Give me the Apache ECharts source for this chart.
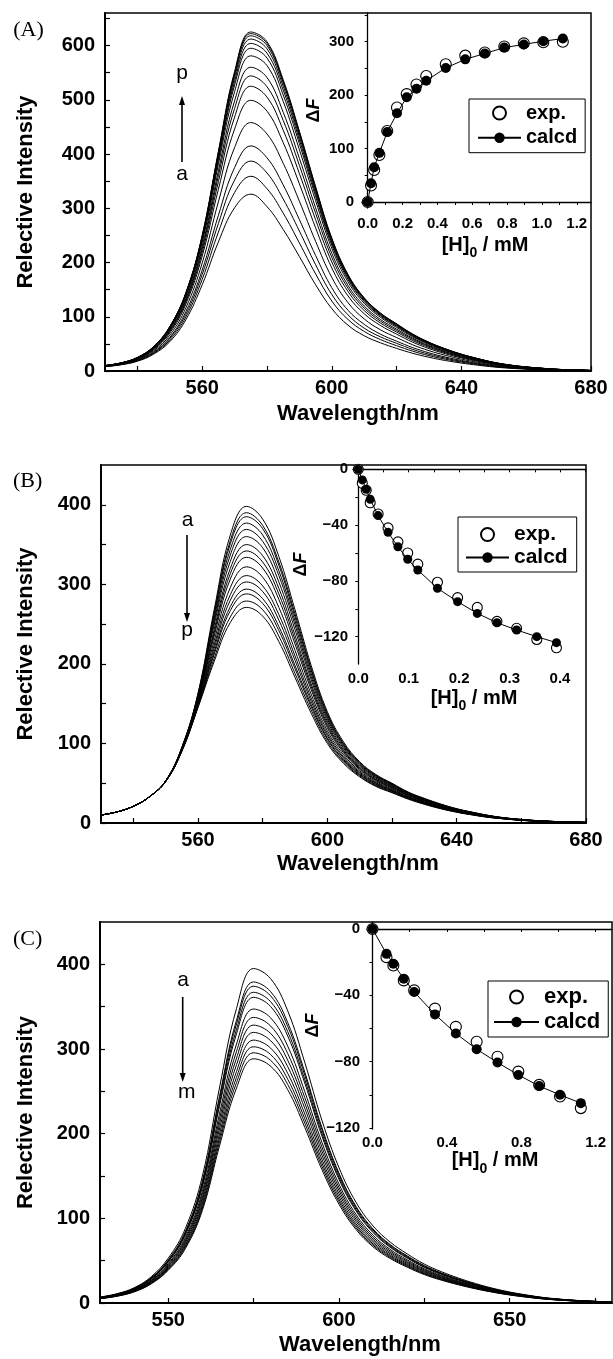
<!DOCTYPE html>
<html><head><meta charset="utf-8">
<script src="https://cdn.jsdelivr.net/npm/echarts@6/dist/echarts.min.js"></script>
<style>html,body{margin:0;padding:0;background:#fff}#c{width:613px;height:1359px}</style>
</head><body><div id="c"></div>
<script>
// ---------- data ----------
const wavelengths = [530,535,540,545,550,555,560,565,570,575,580,585,590,595,600,605,610,615,620,625,630,635,640,645,650,655,660,665,670,675,680];

// Panel A: spectra a..p (intensity rises)
const spectraA = [
 [8,11.5,18,31,54,95,159,238,301,326,303,261,211,159,115,84.5,65,52,41.7,32.6,25.3,19.4,14.6,10.7,7.4,5.1,3.4,2.2,1.4,0.85,0.5],
 [8.2,11.9,18.8,32.5,57,100,169,256,329,359,336,291,236,179,129,95,73,58,46.7,36.5,28.3,21.8,16.4,12.1,8.3,5.7,3.9,2.5,1.6,1,0.55],
 [8.4,12.2,19.4,33.8,60,105,178,272,352,387,365,317,258,196,141,103.5,79,63,51,39.8,30.9,23.8,17.9,13.2,9.1,6.3,4.2,2.8,1.7,1.1,0.6],
 [8.6,12.5,20.1,35.1,62,110,186,287,375,415,393,343,279,213,153.5,112,86,68,55,43.1,33.5,25.8,19.5,14.3,9.9,6.8,4.6,3,1.9,1.2,0.65],
 [8.9,13,21.1,37.2,66,117,199,312,412,458,437,383,313,239,172.5,126,96,76,61.7,48.2,37.5,29,21.8,16.1,11.2,7.7,5.2,3.4,2.1,1.4,0.7],
 [9.2,13.5,22,39.1,70,124,212,335,446,499,479,421,345,264,190,138.5,105.5,84,67.9,53.1,41.3,31.9,24.1,17.8,12.4,8.5,5.8,3.8,2.3,1.5,0.8],
 [9.3,13.8,22.6,40.3,72.6,128,219,349,468,525,505,444,364,279,201,146.6,111.5,88.5,71.8,56.1,43.7,33.7,25.5,18.9,13.1,9,6.1,4.1,2.5,1.6,0.8],
 [9.5,14,23.1,41.2,74.4,131,225,360,484,544,524,462,379,291,209.6,152.6,116,92,74.7,58.4,45.5,35.1,26.5,19.7,13.7,9.4,6.4,4.2,2.6,1.7,0.9],
 [9.6,14.2,23.5,42,76,134,230,369,498,560,541,477,392,301,217,157.8,119.9,95.1,77.2,60.4,47,36.3,27.5,20.3,14.1,9.7,6.6,4.4,2.7,1.75,0.9],
 [9.7,14.5,24,43,78,138,237,381,515,581,563,497,408,314,226,164.3,124.8,99,80.4,62.8,49,37.8,28.6,21.2,14.7,10.1,6.9,4.6,2.8,1.8,0.93],
 [9.8,14.7,24.3,43.6,79,140,241,388,527,595,577,509,419,322,232,168.7,128,101.5,82.5,64.5,50.2,38.8,29.4,21.8,15.1,10.4,7.1,4.7,2.8,1.9,0.95],
 [9.9,14.8,24.5,44,80,141.5,244,393,534,604,586,518,426,327,236,171.5,130,103,83.8,65.5,51.1,39.5,29.9,22.1,15.4,10.6,7.2,4.8,2.9,1.9,0.97],
 [9.9,14.9,24.7,44.4,81,143,246,398,541,612,594,525,432,332,239,174,132,104.6,85.1,66.5,51.8,40.1,30.3,22.5,15.6,10.7,7.3,4.9,2.9,1.95,0.98],
 [10,14.9,24.8,44.7,81.4,144,248,401,546,618,600,531,437,336,242,175.8,133.4,105.7,86,67.2,52.4,40.5,30.6,22.7,15.8,10.9,7.4,4.9,3,1.97,0.99],
 [10,15,24.9,44.9,81.7,144.5,249,403,549.5,622,604,534,440,338,244,177,134.3,106.5,86.5,67.6,52.7,40.8,30.8,22.9,15.9,10.9,7.5,5,3,2,1],
 [10,15,25,45,82,145,250,405,552,625,607,537,442,340,245,178,135,107,87,68,53,41,31,23,16,11,7.5,5,3,2,1]
];
// Panel B: spectra a..p (intensity falls)
const spectraB = [
 [10,14,21,33,53,95,163,268,362,398,382,335,268,198,140,102,77,61,50,39,31,24,18,13.5,9.5,6.5,4.5,3,2,1.3,0.8],
 [10,14,21,33,53,95,162,264,355,390,374,328,263,194,137.5,100,76,60,49.2,38.4,30.5,23.6,17.7,13.3,9.3,6.4,4.4,2.95,1.96,1.27,0.79],
 [10,14,21,33,53,94.5,161,261,351,385,370,324,259,192,136,99,75,59.5,48.8,38.1,30.2,23.4,17.5,13.1,9.2,6.3,4.4,2.9,1.94,1.26,0.78],
 [10,14,21,33,53,94,160,257,344,377,362,317,254,188,133.4,97.5,73.9,58.5,48,37.5,29.8,23,17.3,12.9,9.1,6.25,4.3,2.87,1.9,1.23,0.77],
 [10,14,21,33,52.8,94,159,253,337,369,354,311,249,184,131,95.8,72.7,57.6,47.3,36.9,29.3,22.6,17,12.7,8.9,6.2,4.2,2.8,1.86,1.2,0.75],
 [10,14,21,33,52.7,93.5,158,249,329,360,346,303,243,180,128,93.9,71.3,56.5,46.4,36.3,28.8,22.2,16.7,12.5,8.75,6.05,4.14,2.76,1.82,1.18,0.74],
 [10,14,21,33,52.6,93,156,243,320,350,336,295,236,175,125,91.8,69.8,55.3,45.5,35.6,28.2,21.7,16.3,12.2,8.6,5.9,4.05,2.7,1.77,1.15,0.72],
 [10,14,21,33,52.6,92.8,155,239,313.5,342,328,288,230.5,171.5,122.4,90.1,68.6,54.4,44.7,35,27.7,21.4,16,12,8.4,5.8,3.97,2.65,1.74,1.12,0.71],
 [10,14,21,33,52.5,92.5,154,235,306.6,334,320.5,281,225,167.8,119.8,88.4,67.4,53.4,44,34.5,27.2,21,15.7,11.7,8.2,5.7,3.9,2.6,1.7,1.1,0.7],
 [10,14,21,33,52.4,92,152,229,296,322,309,271,217,162,116,85.9,65.6,52,42.8,33.6,26.5,20.4,15.3,11.4,8,5.6,3.8,2.5,1.64,1.06,0.68],
 [10,14,21,33,52.3,91.6,151,223.5,287,311,298,262,210,157,112.6,83.5,64,50.7,41.8,32.8,25.9,19.9,14.9,11.1,7.8,5.5,3.7,2.45,1.6,1.03,0.66],
 [10,14,21,33,52.3,91.3,149.5,219.4,280,303,291,255,204.4,153,110,81.8,62.8,49.8,41,32.3,25.4,19.5,14.6,10.9,7.6,5.4,3.6,2.4,1.55,1,0.65],
 [10,14,21,33,52.2,90.9,148,215,272,294,282,247,198,149,107,79.9,61.4,48.7,40.2,31.6,24.9,19.1,14.3,10.6,7.5,5.3,3.5,2.35,1.5,0.97,0.64],
 [10,14,21,33,52.1,90.7,147,212,267,288,276,242,194,146,105.4,78.6,60.5,48,39.6,31.2,24.5,18.8,14.1,10.5,7.3,5.2,3.46,2.3,1.48,0.95,0.63],
 [10,14,21,33,52.1,90.3,146,207,259,279,268,235,188,142,102.5,76.7,59.2,46.9,38.8,30.6,24,18.4,13.8,10.2,7.2,5.1,3.4,2.25,1.44,0.93,0.61],
 [10,14,21,33,52,90,145,203,252,271,260,228,183,138,100,75,58,46,38,30,23.5,18,13.5,10,7,5,3.3,2.2,1.4,0.9,0.6]
];
// Panel C: spectra a..m (intensity falls)
const spectraC = [
 [7,11,18,31,53,88,150,254,348,395,383,345,284,216,160,119,91,72,58,46,37,29.5,23,17.5,13,9.5,6.5,4.5,3,2,1.2],
 [6.7,10.6,17.3,29.8,50.9,84.5,144,243.8,334.1,379.2,367.7,331.2,272.6,207.4,153.6,114.2,87.4,69.1,55.7,44.2,35.5,28.3,22.1,16.8,12.5,9.1,6.2,4.3,2.9,1.9,1.15],
 [6.6,10.4,17,29.4,50.2,83.3,142.1,240.5,329.6,374.1,362.7,326.7,268.9,204.6,151.5,112.7,86.2,68.2,54.9,43.6,35,27.9,21.8,16.6,12.3,9,6.2,4.3,2.8,1.9,1.14],
 [6.5,10.2,16.7,28.8,49.2,81.8,139.4,236,323.3,367,355.8,320.5,263.8,200.7,148.6,110.6,84.5,66.9,53.9,42.7,34.4,27.4,21.4,16.3,12.1,8.8,6,4.2,2.8,1.86,1.11],
 [6.4,10.1,16.5,28.3,48.4,80.4,137.1,232.2,318.1,361,350.1,315.3,259.6,197.4,146.2,108.8,83.2,65.8,53,42,33.8,27,21,16,11.9,8.7,5.9,4.1,2.7,1.83,1.1],
 [6.2,9.7,15.8,27.2,46.6,77.4,131.9,223.3,305.9,347.2,336.7,303.3,249.6,189.9,140.6,104.6,80,63.3,51,40.4,32.5,25.9,20.2,15.4,11.4,8.4,5.7,4,2.6,1.76,1.05],
 [6,9.4,15.4,26.5,45.3,75.2,128.1,216.9,297.2,337.3,327.1,294.6,242.5,184.5,136.6,101.6,77.7,61.5,49.5,39.3,31.6,25.2,19.6,14.9,11.1,8.1,5.6,3.8,2.6,1.7,1.02],
 [5.8,9.1,15,25.8,44,73.1,124.7,211.1,289.2,328.2,318.3,286.7,236,179.5,133,98.9,75.6,59.8,48.2,38.2,30.7,24.5,19.1,14.5,10.8,7.9,5.4,3.7,2.5,1.66,1],
 [5.7,8.9,14.6,25.1,42.9,71.2,121.4,205.5,281.5,319.6,309.8,279.1,229.8,174.7,129.4,96.3,73.6,58.2,46.9,37.2,29.9,23.9,18.6,14.2,10.5,7.7,5.3,3.6,2.4,1.6,0.97],
 [5.5,8.6,14.1,24.4,41.7,69.2,117.9,199.6,273.5,310.5,301,271.2,223.2,169.8,125.8,93.5,71.5,56.6,45.6,36.2,29.1,23.2,18.1,13.8,10.2,7.5,5.1,3.5,2.4,1.57,0.94],
 [5.4,8.4,13.8,23.7,40.6,67.4,114.9,194.6,266.6,302.6,293.4,264.3,217.5,165.5,122.6,91.2,69.7,55.2,44.4,35.2,28.3,22.6,17.6,13.4,10,7.3,5,3.4,2.3,1.53,0.92],
 [5.2,8.2,13.5,23.2,39.6,65.8,112.2,190,260.3,295.5,286.5,258.1,212.4,161.6,119.7,89,68.1,53.9,43.4,34.4,27.7,22.1,17.2,13.1,9.7,7.1,4.9,3.4,2.2,1.5,0.9],
 [5.1,8,13.1,22.6,38.7,64.2,109.5,185.4,254,288.4,279.6,251.9,207.3,157.7,116.8,86.9,66.4,52.6,42.3,33.6,27,21.5,16.8,12.8,9.5,6.9,4.7,3.3,2.2,1.46,0.88]
];

// Insets: [H]0 (mM) vs ΔF
const concA = [0,0.019,0.037,0.067,0.112,0.168,0.224,0.28,0.336,0.448,0.56,0.672,0.784,0.896,1.008,1.12];
const expA  = [0,31,60,88,133,177,202,220,236,258,274,280,291,297,299,300];
const calcA = [0,35,65,92,131,166,196,212,227,251,267,278,289,295,301,306];
const concB = [0,0.0079,0.0157,0.0236,0.0393,0.059,0.0786,0.098,0.118,0.157,0.197,0.236,0.275,0.314,0.354,0.393];
const expB  = [0,-10,-15,-24,-32,-42,-52,-60,-68,-81,-92,-99,-109,-114,-122,-128];
const calcB = [0,-7.6,-14.3,-21.5,-33.2,-45.2,-55.5,-64.5,-72.2,-85.3,-94.9,-103.3,-110,-115.2,-120,-124.3];
const concC = [0,0.075,0.112,0.168,0.224,0.336,0.448,0.56,0.672,0.784,0.896,1.008,1.12];
const expC  = [0,-17,-22,-31,-37,-48,-59,-68,-77,-86,-94,-101,-108];
const calcC = [0,-15,-21,-30,-38,-51.5,-63,-72.5,-80.5,-88,-94.7,-100,-105];

// tick labels / tick positions
const mainXLabelsAB = [560,600,640,680];
const mainXTicksAB  = [540,560,580,600,620,640,660,680];
const mainXLabelsC  = [550,600,650];
const mainXTicksC   = [550,575,600,625,650,675];
const mainYLabelsA  = [0,100,200,300,400,500,600];
const mainYTicksA   = [0,50,100,150,200,250,300,350,400,450,500,550,600,650];
const mainYLabelsBC = [0,100,200,300,400];
const mainYTicksBC  = [0,50,100,150,200,250,300,350,400];
const insetXLabelsA = [0,0.2,0.4,0.6,0.8,1.0,1.2];
const insetXTicksA  = [0,0.1,0.2,0.3,0.4,0.5,0.6,0.7,0.8,0.9,1.0,1.1,1.2];
const insetYLabelsA = [0,100,200,300];
const insetYTicksA  = [0,50,100,150,200,250,300,350];
const insetXLabelsB = [0,0.1,0.2,0.3,0.4];
const insetXTicksB  = [0,0.05,0.1,0.15,0.2,0.25,0.3,0.35,0.4,0.45];
const insetXLabelsC = [0,0.4,0.8,1.2];
const insetXTicksC  = [0,0.2,0.4,0.6,0.8,1.0,1.2];
const insetYLabelsBC = [0,-40,-80,-120];
const insetYTicksBC  = [0,-20,-40,-60,-80,-100,-120];

// ---------- styling helpers ----------
const SANS = '"Liberation Sans", Arial, Helvetica, sans-serif';
const SERIF = '"Liberation Serif", "Times New Roman", serif';
const BLACK = '#000';
const fmtDec = v => Number(v).toFixed(1);
const fmtNeg = v => v === 0 ? '0' : (v < 0 ? '\u2212' + Math.abs(v) : String(v));

function mainX(gi, min, max, labels, ticks, gap, shift) {
  return {
    type: 'value', gridIndex: gi, min: min, max: max,
    axisLine: {show: true, lineStyle: {color: BLACK, width: 2}},
    axisTick: {show: true, inside: true, length: 5, customValues: ticks, lineStyle: {color: BLACK, width: 1.2}},
    axisLabel: {customValues: labels, color: BLACK, fontSize: 20, fontWeight: 'bold', fontFamily: SANS, margin: 7},
    splitLine: {show: false},
    name: 'Wavelength/nm', nameLocation: 'middle', nameGap: gap,
    nameTextStyle: {color: BLACK, fontSize: 22, fontWeight: 'bold', fontFamily: SANS, padding: [0, 0, 0, shift]}
  };
}
function mainY(gi, min, max, labels, ticks, gap) {
  return {
    type: 'value', gridIndex: gi, min: min, max: max,
    axisLine: {show: true, lineStyle: {color: BLACK, width: 2}},
    axisTick: {show: true, inside: true, length: 5, customValues: ticks, lineStyle: {color: BLACK, width: 1.2}},
    axisLabel: {customValues: labels, color: BLACK, fontSize: 20, fontWeight: 'bold', fontFamily: SANS, margin: 10},
    splitLine: {show: false},
    name: 'Relective Intensity', nameLocation: 'middle', nameGap: gap, nameRotate: 90,
    nameTextStyle: {color: BLACK, fontSize: 22, fontWeight: 'bold', fontFamily: SANS}
  };
}
const hRich = {
  a: {fontSize: 20, fontWeight: 'bold', fontFamily: SANS, color: BLACK, lineHeight: 22, padding: [0, 0, 5, 0], verticalAlign: 'bottom'},
  s: {fontSize: 14, fontWeight: 'bold', fontFamily: SANS, color: BLACK, lineHeight: 16, verticalAlign: 'bottom'}
};
const dRich = {
  d: {fontSize: 18, fontWeight: 'bold', fontFamily: SANS, color: BLACK},
  f: {fontSize: 18, fontWeight: 'bold', fontStyle: 'italic', fontFamily: SANS, color: BLACK}
};
function insetX(gi, min, max, labels, ticks, margin, gap, shift) {
  return {
    type: 'value', gridIndex: gi, min: min, max: max,
    axisLine: {show: true, lineStyle: {color: BLACK, width: 1.3}},
    axisTick: {show: true, inside: false, length: 3, customValues: ticks, lineStyle: {color: BLACK, width: 1}},
    axisLabel: {customValues: labels, formatter: fmtDec, color: BLACK, fontSize: 15, fontWeight: 'bold', fontFamily: SANS, margin: margin},
    splitLine: {show: false},
    name: '{a|[H]}{s|0}{a| / mM}', nameLocation: 'middle', nameGap: gap,
    nameTextStyle: {rich: hRich, padding: [0, 0, 0, shift]}
  };
}
function insetY(gi, min, max, labels, ticks, margin, gap) {
  return {
    type: 'value', gridIndex: gi, min: min, max: max,
    axisLine: {show: true, lineStyle: {color: BLACK, width: 1.3}},
    axisTick: {show: true, inside: false, length: 3, customValues: ticks, lineStyle: {color: BLACK, width: 1}},
    axisLabel: {customValues: labels, formatter: fmtNeg, color: BLACK, fontSize: 15, fontWeight: 'bold', fontFamily: SANS, margin: margin},
    splitLine: {show: false},
    name: '{d|\u0394}{f|F}', nameLocation: 'middle', nameGap: gap, nameRotate: 90,
    nameTextStyle: {rich: dRich}
  };
}
function spectraSeries(spectra, gi, tag) {
  return spectra.map((vals, k) => ({
    name: tag + String.fromCharCode(97 + k), type: 'line', xAxisIndex: gi, yAxisIndex: gi,
    data: wavelengths.map((w, i) => [w, vals[i]]),
    symbol: 'none', showSymbol: false, smooth: 0.4, silent: true,
    lineStyle: {color: BLACK, width: 1}, z: 2
  }));
}
function insetSeries(gi, conc, exp, calc, sizeOpen, sizeFill) {
  return [
    {name: 'exp.', type: 'scatter', xAxisIndex: gi, yAxisIndex: gi,
     data: conc.map((c, i) => [c, exp[i]]), symbol: 'circle', symbolSize: sizeOpen,
     itemStyle: {color: '#fff', borderColor: BLACK, borderWidth: 1.1, opacity: 1}, silent: true, z: 5},
    {name: 'calcd', type: 'line', xAxisIndex: gi, yAxisIndex: gi,
     data: conc.map((c, i) => [c, calc[i]]), symbol: 'circle', symbolSize: sizeFill, showSymbol: true,
     lineStyle: {color: BLACK, width: 1}, itemStyle: {color: BLACK, opacity: 1}, silent: true, z: 6}
  ];
}
function legendAt(left, top, padding, gap, itemWidth, fontSize) {
  return {
    data: ['exp.', 'calcd'], orient: 'vertical', left: left, top: top, padding: padding, itemGap: gap,
    itemWidth: itemWidth, itemHeight: 13, selectedMode: false,
    borderColor: BLACK, borderWidth: 1, backgroundColor: '#fff',
    textStyle: {color: BLACK, fontSize: fontSize, fontWeight: 'bold', fontFamily: SANS}
  };
}
function txt(x, y, s, font) {
  return {type: 'text', x: x, y: y, silent: true,
    style: {text: s, font: font, fill: BLACK, align: 'center', verticalAlign: 'middle', textAlign: 'center', textVerticalAlign: 'middle'}};
}
function arrow(x, yTail, yHead) {
  const dir = yHead < yTail ? 1 : -1;
  return [
    {type: 'line', silent: true, shape: {x1: x, y1: yTail, x2: x, y2: yHead + dir * 7}, style: {stroke: BLACK, lineWidth: 1.6}},
    {type: 'polygon', silent: true, shape: {points: [[x, yHead], [x - 3, yHead + dir * 9], [x + 3, yHead + dir * 9]]}, style: {fill: BLACK}}
  ];
}

const option = {
  animation: false,
  backgroundColor: '#fff',
  grid: [
    {left: 105, top: 13, width: 486, height: 358, show: true, borderColor: BLACK, borderWidth: 1.5},
    {left: 362, top: 13, width: 229, height: 195},
    {left: 101, top: 465, width: 485, height: 358, show: true, borderColor: BLACK, borderWidth: 1.5},
    {left: 353, top: 465, width: 233, height: 199},
    {left: 100, top: 922, width: 512, height: 381, show: true, borderColor: BLACK, borderWidth: 1.5},
    {left: 367, top: 922, width: 245, height: 207}
  ],
  xAxis: [
    mainX(0, 530, 680, mainXLabelsAB, mainXTicksAB, 32, 20),
    insetX(1, -0.0328, 1.2818, insetXLabelsA, insetXTicksA, 8, 30, 17),
    mainX(2, 530, 680, mainXLabelsAB, mainXTicksAB, 30, 29),
    insetX(3, -0.0105, 0.4516, insetXLabelsB, insetXTicksB, 7, 27, 9),
    mainX(4, 530, 680, mainXLabelsC, mainXTicksC, 31, 8),
    insetX(5, -0.0296, 1.2876, insetXLabelsC, insetXTicksC, 6, 24, 11)
  ],
  yAxis: [
    mainY(0, 0, 660, mainYLabelsA, mainYTicksA, 68),
    insetY(1, -11.2, 353.8, insetYLabelsA, insetYTicksA, 8, 39),
    mainY(2, 0, 450, mainYLabelsBC, mainYTicksBC, 64),
    insetY(3, -139.6, 3.1, insetYLabelsBC, insetYTicksBC, 5, 30),
    mainY(4, 0, 450, mainYLabelsBC, mainYTicksBC, 63),
    insetY(5, -120.6, 4.2, insetYLabelsBC, insetYTicksBC, 7, 33)
  ],
  legend: [
    legendAt(469, 99, [4, 8, 5, 8], 4.7, 43, 20),
    legendAt(458, 517, [7, 9, 4, 7], 2, 43, 21),
    legendAt(488, 981, [5, 8, 4, 5], 3, 45, 22)
  ],
  series: [].concat(
    spectraSeries(spectraA, 0, 'A-'),
    insetSeries(1, concA, expA, calcA, 11, 10),
    spectraSeries(spectraB, 2, 'B-'),
    insetSeries(3, concB, expB, calcB, 10, 9),
    spectraSeries(spectraC, 4, 'C-'),
    insetSeries(5, concC, expC, calcC, 11, 10)
  ),
  graphic: [].concat(
    [txt(28.5, 30, '(A)', '22px ' + SERIF), txt(27.7, 481, '(B)', '22px ' + SERIF), txt(27.7, 939, '(C)', '22px ' + SERIF)],
    [txt(182, 73.5, 'p', '21px ' + SANS), txt(182, 174.5, 'a', '21px ' + SANS)],
    arrow(182, 162, 96),
    [txt(187.5, 520.5, 'a', '21px ' + SANS), txt(187, 630.3, 'p', '21px ' + SANS)],
    arrow(187, 535, 622),
    [txt(183, 980.5, 'a', '21px ' + SANS), txt(186.7, 1092, 'm', '21px ' + SANS)],
    arrow(182.7, 997, 1082)
  )
};
const chart = echarts.init(document.getElementById('c'), null, {renderer: 'canvas'});
chart.setOption(option);
</script>
</body></html>
